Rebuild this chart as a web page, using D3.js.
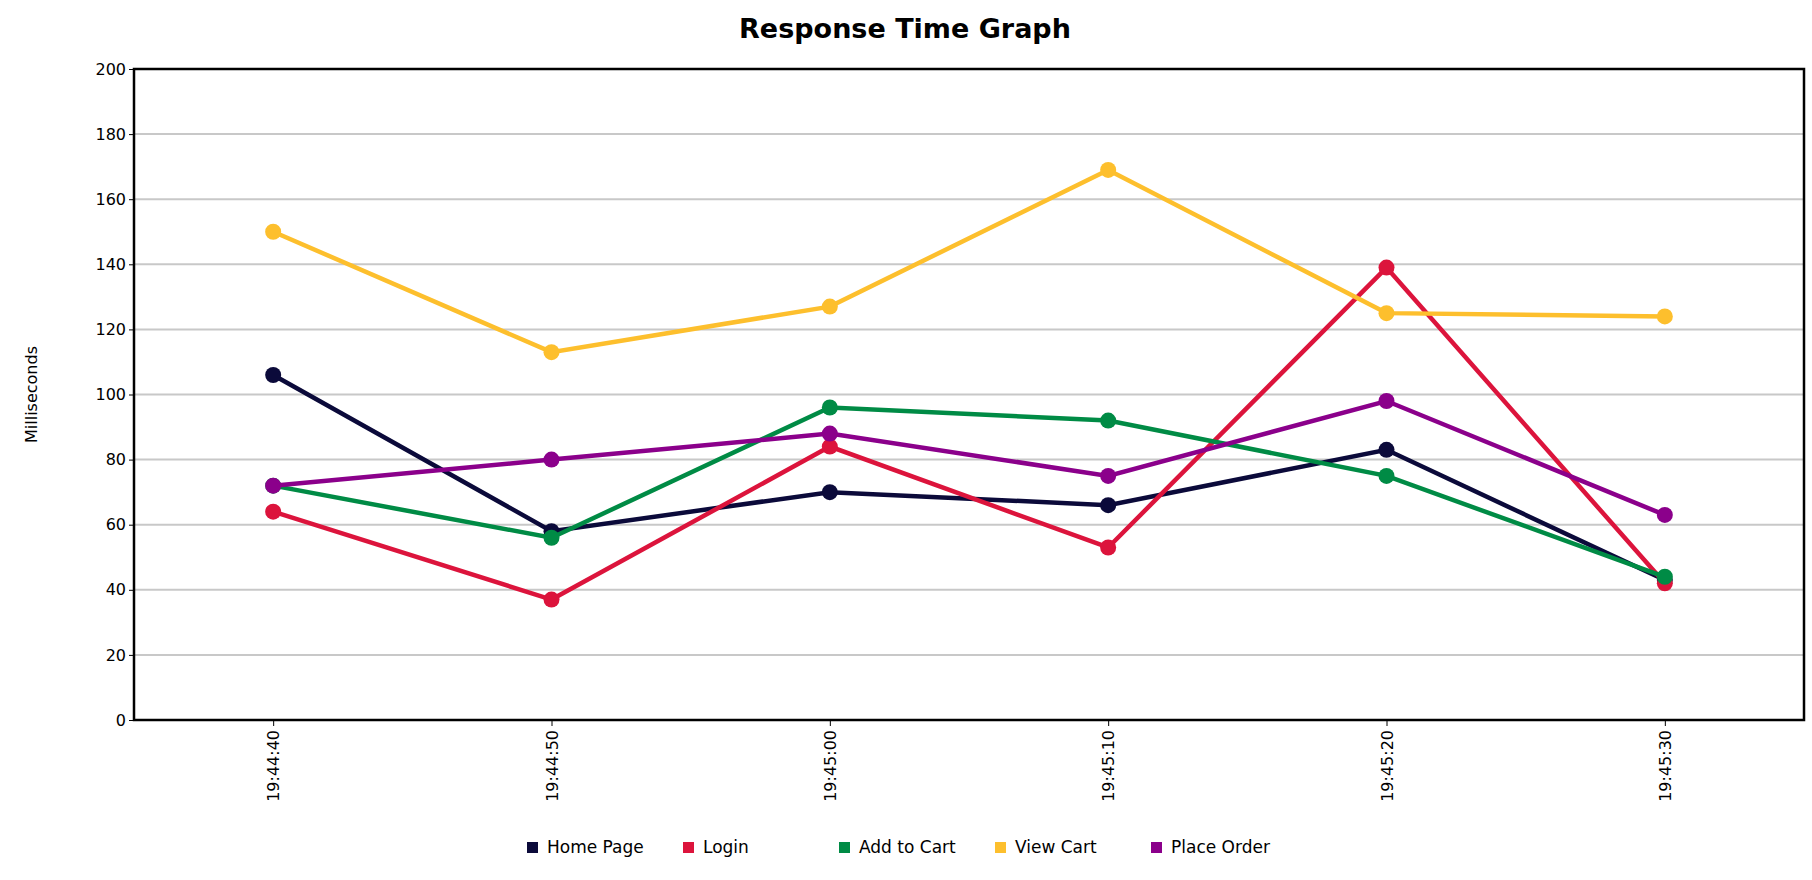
<!DOCTYPE html><html><head><meta charset="utf-8">
<script src="https://cdn.jsdelivr.net/npm/d3@7"></script>
<style>body{margin:0;background:#fff}text{font-family:"DejaVu Sans",sans-serif}</style></head><body>
<svg id="c" width="1812" height="880"></svg>
<script>
const categories=["19:44:40","19:44:50","19:45:00","19:45:10","19:45:20","19:45:30"];
const seriesNames=["Home Page","Login","Add to Cart","View Cart","Place Order"];
const seriesColors=["#0b0a3a","#dc143c","#008b45","#fdbf2d","#8b008b"];
const homePage=[106,58,70,66,83,43];
const login=[64,37,84,53,139,42];
const addToCart=[72,56,96,92,75,44];
const viewCart=[150,113,127,169,125,124];
const placeOrder=[72,80,88,75,98,63];
const yTicks=[0,20,40,60,80,100,120,140,160,180,200];
const series=[homePage,login,addToCart,viewCart,placeOrder];
const svg=d3.select("#c");
const L=134,R=1804,T=69,B=720;
const x=d3.scalePoint().domain(categories).range([L,R]).padding(0.5);
const y=d3.scaleLinear().domain([0,200]).range([B,T]);
svg.append("text").attr("x",905).attr("y",38).attr("text-anchor","middle").attr("font-size",27).attr("font-weight","bold").text("Response Time Graph");
svg.append("g").selectAll("line").data(yTicks.slice(1)).join("line").attr("x1",L).attr("x2",R).attr("y1",d=>y(d)).attr("y2",d=>y(d)).attr("stroke","#c8c8c8").attr("stroke-width",2);
const ya=svg.append("g").attr("transform",`translate(${L},0)`).call(d3.axisLeft(y).tickValues(yTicks).tickSize(5));
ya.selectAll("text").attr("font-size",16).attr("fill","#000");ya.select(".domain").remove();
const xa=svg.append("g").attr("transform",`translate(0,${B})`).call(d3.axisBottom(x).tickSize(6));
xa.select(".domain").remove();
xa.selectAll("text").attr("font-size",16).attr("fill","#000").attr("transform","rotate(-90)").attr("text-anchor","end").attr("dx","-10").attr("dy","0.35em").attr("x",0).attr("y",0);
svg.append("rect").attr("x",L).attr("y",T).attr("width",R-L).attr("height",B-T).attr("fill","none").attr("stroke","#000").attr("stroke-width",2.5);
svg.append("text").attr("transform",`translate(37,${(T+B)/2}) rotate(-90)`).attr("text-anchor","middle").attr("font-size",16).text("Milliseconds");
const line=d3.line().x((d,i)=>x(categories[i])).y(d=>y(d));
series.forEach((s,k)=>{
 svg.append("path").datum(s).attr("d",line).attr("fill","none").attr("stroke",seriesColors[k]).attr("stroke-width",4.5);
 svg.append("g").selectAll("circle").data(s).join("circle").attr("cx",(d,i)=>x(categories[i])).attr("cy",d=>y(d)).attr("r",8).attr("fill",seriesColors[k]);
});
const lg=svg.append("g");
seriesNames.forEach((n,k)=>{
 const gx=527+k*156;
 lg.append("rect").attr("x",gx).attr("y",842).attr("width",11).attr("height",11).attr("fill",seriesColors[k]);
 lg.append("text").attr("x",gx+20).attr("y",853).attr("font-size",17).text(n);
});
</script></body></html>
